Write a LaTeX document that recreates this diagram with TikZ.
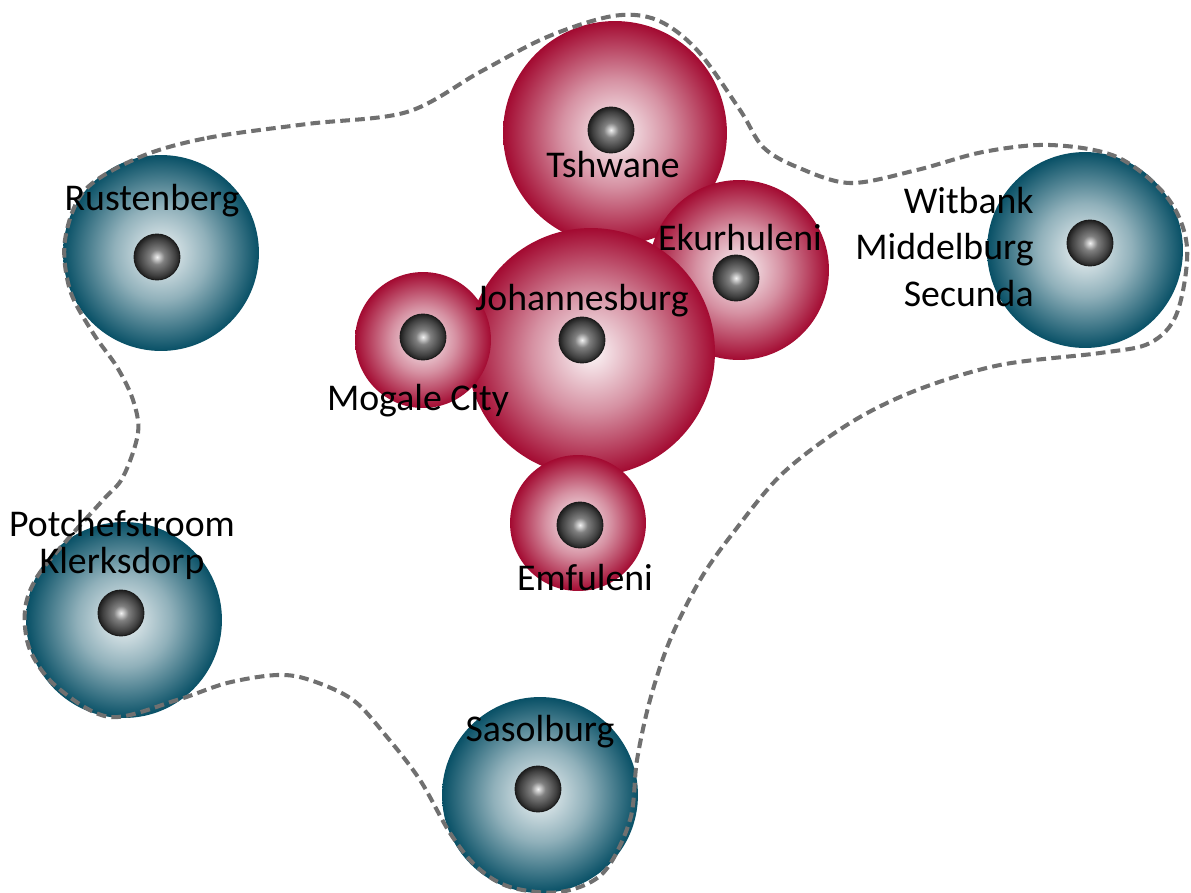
\documentclass[tikz,border=0pt]{standalone}
\usepackage{fontspec}
\setmainfont{Carlito}
\usetikzlibrary{positioning}
\definecolor{cityred}{RGB}{163,10,49}
\definecolor{cityteal}{RGB}{8,80,102}
\definecolor{edgegrey}{RGB}{112,112,112}
\pgfdeclareradialshading{redglobe}{\pgfpoint{0bp}{0bp}}{color(0bp)=(cityred!3!white); color(12bp)=(cityred!45!white); color(25bp)=(cityred); color(50bp)=(cityred)}
\pgfdeclareradialshading{tealglobe}{\pgfpoint{0bp}{0bp}}{color(0bp)=(cityteal!6!white); color(12bp)=(cityteal!45!white); color(25bp)=(cityteal); color(50bp)=(cityteal)}
\pgfdeclareradialshading{dotball}{\pgfpoint{0bp}{0bp}}{color(0bp)=(white!95!black); color(8bp)=(black!50); color(20bp)=(black!75); color(25bp)=(black!88); color(50bp)=(black!88)}
\tikzset{
  redcity/.style={circle,inner sep=0pt,shading=redglobe,minimum size=#1*0.04cm},
  tealcity/.style={circle,inner sep=0pt,shading=tealglobe,minimum size=#1*0.04cm},
  citydot/.style={circle,inner sep=0pt,minimum size=0.92cm,shading=dotball,
                  draw=black!90,line width=.5pt},
  cityname/.style={inner sep=0pt,font=\fontsize{21.5}{26.7}\selectfont,align=center},
  region/.style={draw=edgegrey,line width=2.3pt,dash pattern=on 5.5pt off 3pt},
}

\begin{document}
\begin{tikzpicture}[x=0.02cm,y=-0.02cm]
  \useasboundingbox (0,0) rectangle (1191,893);
  % the metro core
  \node[redcity=112] (tsh) at (615,133) {};
  \node[redcity=90]  (eku) at (739,270) {};
  \node[redcity=124] (jhb) at (591,352) {};
  \node[redcity=68]  (mog) at (423,340) {};
  \node[redcity=68]  (emf) at (578,523) {};
  % the outer towns
  \node[tealcity=98] (rus) at (161,253) {};
  \node[tealcity=98] (pot) at (124,620) {};
  \node[tealcity=98] (sas) at (540,795) {};
  \node[tealcity=98] (wit) at (1085,250) {};
  % the region
  \draw[region] plot[smooth cycle,tension=0.55] coordinates {
    (140,157) (207,138) (307,124) (407,112) (480,72) (547,37) (613,16)
    (657,20) (697,50) (740,110) (763,147) (797,167) (850,183) (917,170)
    (983,152) (1050,145) (1117,157) (1167,197) (1187,247) (1177,313)
    (1150,343) (1100,353) (1000,365) (917,390) (850,423) (783,473)
    (733,533) (700,580) (670,640) (650,700) (637,760) (630,820) (603,873)
    (560,892) (510,887) (477,867) (450,833) (420,780) (387,737) (353,700)
    (310,680) (277,675) (227,683) (177,700) (110,717) (57,687) (30,650)
    (25,610) (37,577) (67,540) (103,500) (123,477) (138,433) (133,400)
    (117,367) (93,333) (70,290) (65,240) (85,190)};
  % the dots
  \node[citydot] (tshd) at (611,130) {};
  \node[citydot] (ekud) at (736,278) {};
  \node[citydot] (jhbd) at (582,340) {};
  \node[citydot] (mogd) at (423,337) {};
  \node[citydot] (emfd) at (580,525) {};
  \node[citydot] (rusd) at (157,257) {};
  \node[citydot] (potd) at (121,613) {};
  \node[citydot] (sasd) at (538,789) {};
  \node[citydot] (witd) at (1090,243) {};
  % the names
  \node[cityname,anchor=base] (tshn) at (613,177) {Tshwane};
  \node[cityname,anchor=base] (ekun) at (740,250) {Ekurhuleni};
  \node[cityname,anchor=base] (jhbn) at (582,310) {Johannesburg};
  \node[cityname,anchor=base] (mogn) at (418,410) {Mogale City};
  \node[cityname,anchor=base] (emfn) at (585,590) {Emfuleni};
  \node[cityname,anchor=base] (rusn) at (152,210) {Rustenberg};
  \node[cityname,anchor=base] (sasn) at (540,741) {Sasolburg};
  \node[cityname,font=\fontsize{21.5}{21}\selectfont] (potn) at (122,545)
    {Potchefstroom\\Klerksdorp};
  \node[cityname,align=right,anchor=east] (witn) at (1034,247)
    {Witbank\\Middelburg\\Secunda};
\end{tikzpicture}
\end{document}
